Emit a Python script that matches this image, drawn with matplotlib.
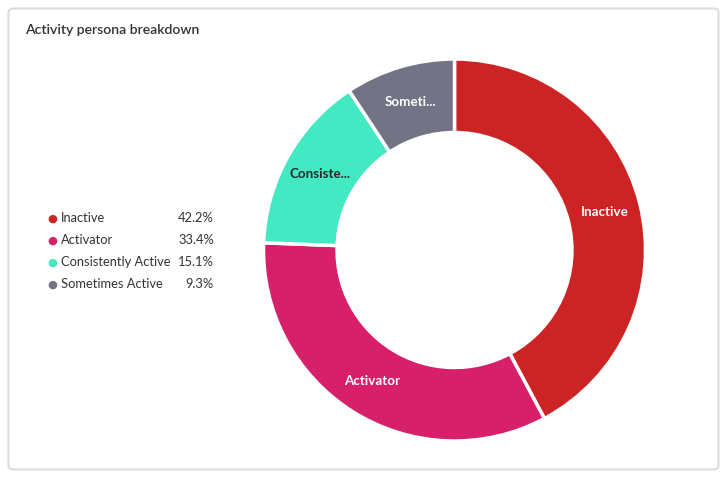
import matplotlib.pyplot as plt
from matplotlib.patches import FancyBboxPatch
import numpy as np

plt.rcParams['font.family'] = ['Lato', 'DejaVu Sans']

labels = ['Inactive', 'Activator', 'Consistently Active', 'Sometimes Active']
short_labels = ['Inactive', 'Activator', 'Consiste...', 'Someti...']
values = [42.2, 33.4, 15.1, 9.3]
colors = ['#CC2424', '#D81F69', '#42E9C3', '#727384']
label_colors = ['white', 'white', '#1E2A2A', 'white']

W, H = 727, 479
fig = plt.figure(figsize=(W / 100, H / 100), dpi=100)


def fx(px):
    return px / W


def fy(py):
    return 1 - py / H


# card background
card = FancyBboxPatch((fx(8.5), fy(469.5)), fx(710), (461) / H,
                      boxstyle='round,pad=0,rounding_size=0.008',
                      transform=fig.transFigure, facecolor='white',
                      edgecolor='#DCDCDC', linewidth=1.5, zorder=-5)
fig.patches.append(card)

fig.text(fx(25), fy(30), 'Activity persona breakdown', fontsize=10.1,
         color='#333333', va='center', ha='left', fontweight='semibold')

# donut
cx, cy, r = 454.5, 250, 191
ax = fig.add_axes([fx(cx - r), fy(cy + r), 2 * r / W, 2 * r / H])
ax.set_zorder(2)
wedges, _ = ax.pie(values, colors=colors, startangle=90, counterclock=False,
                   radius=1, wedgeprops=dict(width=0.385, edgecolor='white', linewidth=2.5))
ax.set_xlim(-1, 1)
ax.set_ylim(-1, 1)
ax.set_aspect('auto')
ax.axis('off')

for w, lab, c in zip(wedges, short_labels, label_colors):
    ang = np.deg2rad((w.theta1 + w.theta2) / 2)
    rr = 0.81
    ax.text(rr * np.cos(ang), rr * np.sin(ang), lab, ha='center', va='center',
            fontsize=9.6, color=c, fontweight='bold')

# legend
for i, (lab, v, c) in enumerate(zip(labels, values, colors)):
    y = 218.5 + 22 * i
    fig.text(fx(52), fy(y), '\u25CF', color=c, fontsize=8.2, ha='center', va='center',
             family='DejaVu Sans')
    fig.text(fx(61), fy(y), lab, color='#333333', fontsize=9.3, ha='left', va='center')
    fig.text(fx(214), fy(y), f'{v:.1f}%', color='#333333', fontsize=9.3, ha='right', va='center')

fig.savefig('out.png', dpi=100, facecolor='white')
